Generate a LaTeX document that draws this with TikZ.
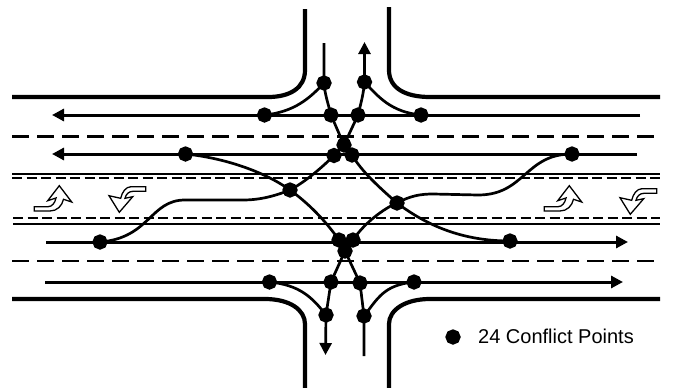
\documentclass[tikz,border=0pt]{standalone}
\usepackage{fontspec}
\setmainfont{Liberation Sans}
\usetikzlibrary{arrows.meta,shapes.geometric}
\tikzset{
  x=1pt,y=-1pt,
  cp/.style={regular polygon,regular polygon sides=8,shape border rotate=22.5,fill=black,inner sep=0pt,minimum size=15.5pt},
  curb/.style={line width=4.2pt,black},
  lane/.style={line width=3pt,black},
  flow/.style={line width=2.7pt,black},
  dashline/.style={line width=2.2pt,black,dash pattern=on 17pt off 8pt},
  shortdash/.style={line width=2pt,black,dash pattern=on 10pt off 4.5pt},
  edge/.style={line width=2.2pt,black},
  headed/.style={-{Triangle[length=12pt,width=12pt]}},
  turn/.style={draw=black,fill=white,line width=1.3pt,line join=miter},
}
\begin{document}
\begin{tikzpicture}
\useasboundingbox (0,0) rectangle (673,388);
% curbs
\draw[curb] (12,97) -- (268,97) .. controls (290,97) and (305,88) .. (305,70) -- (305,9);
\draw[curb] (660,97) -- (430,97) .. controls (405,97) and (389,88) .. (389,70) -- (389,7);
\draw[curb] (12,299) -- (265,299) .. controls (290,299) and (305,310) .. (305,324) -- (305,388);
\draw[curb] (660,299) -- (430,299) .. controls (405,299) and (389,310) .. (389,324) -- (389,388);
% lane markings
\draw[dashline] (12,136.5) -- (660,136.5);
\draw[dashline] (12,261) -- (660,261);
\draw[edge] (12,173.7) -- (660,173.7);
\draw[edge] (13,224) -- (660,224);
\draw[shortdash] (12,178.3) -- (660,178.3);
\draw[shortdash] (13,218.3) -- (660,218.3);
% conflict points
\node[cp] (A) at (324,83) {};
\node[cp] (B) at (364.5,82) {};
\node[cp] (C) at (264.5,115) {};
\node[cp] (D) at (331,115) {};
\node[cp] (E) at (358,115) {};
\node[cp] (F) at (421,115) {};
\node[cp] (G) at (344,145) {};
\node[cp] (H) at (334,155.5) {};
\node[cp] (I) at (352,155) {};
\node[cp] (J) at (290,190) {};
\node[cp] (K) at (397,203) {};
\node[cp] (L) at (339,240) {};
\node[cp] (M) at (353,240) {};
\node[cp] (N) at (345,251) {};
\node[cp] (O) at (269.5,282) {};
\node[cp] (P) at (331,282) {};
\node[cp] (Q) at (360,283) {};
\node[cp] (R) at (414,282) {};
\node[cp] (S) at (326,315) {};
\node[cp] (T) at (364,316) {};
\node[cp] (U) at (185.5,154) {};
\node[cp] (V) at (572,154) {};
\node[cp] (W) at (100,242) {};
\node[cp] (X) at (510,241) {};
\node[cp] (Key) at (453,337) {};
% free ends
\coordinate (n1s) at (640,115);
\coordinate (n1e) at (52,115);
\coordinate (n2s) at (637,154);
\coordinate (n2e) at (52,154);
\coordinate (s1s) at (46,242);
\coordinate (s1e) at (628,242);
\coordinate (s2s) at (45,282);
\coordinate (s2e) at (623,282);
\coordinate (tl) at (324,43);
\coordinate (tr) at (364.5,42);
\coordinate (bl) at (325.5,355);
\coordinate (br) at (364,356);
% through lanes
\draw[lane,headed] (n1s) -- (n1e);
\draw[lane,headed] (n2s) -- (n2e);
\draw[lane,headed] (s1s) -- (s1e);
\draw[lane,headed] (s2s) -- (s2e);
% right turns
\draw[flow] (C.center) .. controls +(30,-3) and +(-14,15) .. (A.center);
\draw[flow] (F.center) .. controls +(-30,-3) and +(14,15) .. (B.center);
\draw[flow] (O.center) .. controls +(30,3) and +(-14,-18) .. (S.center);
\draw[flow] (R.center) .. controls +(-30,3) and +(14,-18) .. (T.center);
% southbound left turn
\draw[flow] (tl) -- (A.center) .. controls +(1,12) and +(-3,-12) .. (D.center) -- (G.center) -- (I.center)
  .. controls (362,172) and (380,188) .. (K.center)
  .. controls (425,224) and (460,241) .. (X.center);
% northbound exit, connecting to the west approach
\draw[flow,headed] (B.center) -- (tr);
\draw[flow] (B.center) .. controls +(-1,12) and +(3,-12) .. (E.center) -- (G.center) -- (H.center)
  .. controls +(-12,12) and +(15,-8) .. (J.center)
  .. controls (275,196) and (260,200) .. (243,200) -- (185,200)
  .. controls (150,200) and (150,238) .. (W.center);
% west approach through to south exit
\draw[flow] (U.center) .. controls (225,158) and (265,172) .. (J.center)
  .. controls (308,203) and (325,220) .. (L.center) -- (N.center) -- (P.center) -- (S.center);
\draw[flow,headed] (S.center) -- (bl);
% east approach through to north
\draw[flow] (V.center) .. controls (525,154) and (525,195) .. (478,195) -- (433,194)
  .. controls (420,194) and (410,196) .. (K.center)
  .. controls (385,208) and (365,222) .. (M.center) -- (N.center) -- (Q.center) -- (T.center) -- (br);
% turn arrows
\def\upturn{(34.3,206.7) -- (48,206.7) .. controls (52,206.7) and (55,203) .. (56,198) -- (47.7,200.7) -- (59.3,185.7) -- (71.7,202) -- (63.5,199.3) .. controls (62,206) and (57,211) .. (50,211) -- (34.3,211) -- cycle}
\def\downturn{(145.7,186.7) -- (131,186.7) .. controls (126,186.7) and (122,192) .. (120.7,198.3) -- (109,195.7) -- (119.3,212.3) -- (132.7,196.7) -- (125,198.3) .. controls (126,194) and (129,191.3) .. (133,191.3) -- (145.7,191.3) -- cycle}
\draw[turn] \upturn;
\draw[turn] \downturn;
\draw[turn,shift={(510,0)}] \upturn;
\draw[turn,shift={(511,2)}] \downturn;
% legend
\node[anchor=base west,inner sep=0pt,font=\fontsize{20}{24}\selectfont] (KeyText) at (478,343) {24 Conflict Points};
\end{tikzpicture}
\end{document}
